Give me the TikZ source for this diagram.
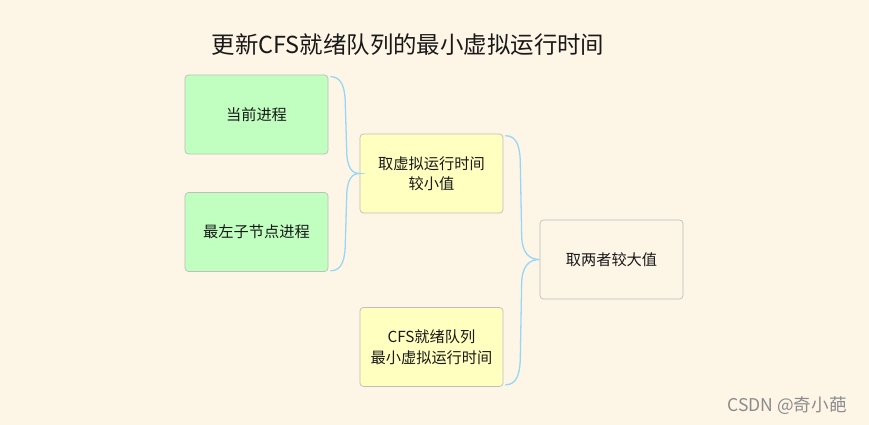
\documentclass[tikz,border=0pt]{standalone}
\usepackage{fontspec}
\usepackage{tikz}
\usepackage{xcolor}
\usetikzlibrary{positioning,calc}
\setmainfont{Noto Sans CJK SC}
\newfontfamily\cjk{Noto Sans CJK SC}

\definecolor{bgcol}{RGB}{253,245,230}
\definecolor{greenbox}{RGB}{192,255,192}
\definecolor{yellowbox}{RGB}{255,255,192}
\definecolor{edgecol}{RGB}{190,190,190}
\definecolor{bracecol}{RGB}{150,215,245}

\begin{document}
\begin{tikzpicture}[
  x=0.03cm, y=-0.03cm,
  box/.style={rectangle, rounded corners=3pt, draw=edgecol, line width=0.6pt,
              minimum width=4.29cm, minimum height=2.37cm, align=center,
              font=\cjk\fontsize{13}{17.5}\selectfont, text=black!90},
  gbox/.style={box, fill=greenbox},
  ybox/.style={box, fill=yellowbox},
  brc/.style={draw=bracecol, line width=1.1pt}
]
\fill[bgcol] (0,0) rectangle (869,425);
\useasboundingbox (0,0) rectangle (869,425);

\node[font=\cjk\fontsize{20}{24}\selectfont, text=black!90] (title) at (408,45)
  {更新CFS就绪队列的最小虚拟运行时间};

\node[gbox] (cur)  at (256.5,114.5) {当前进程};
\node[gbox] (left) at (256.5,232)   {最左子节点进程};
\node[ybox] (minv) at (431.5,173.5) {取虚拟运行时间\\较小值};
\node[ybox] (cfs)  at (431.5,347)   {CFS就绪队列\\最小虚拟运行时间};
\node[box]  (maxv) at (611.5,259.5) {取两者较大值};

% braces
\coordinate (b1t) at ($(cur.north east)+(2,2)$);
\coordinate (b1b) at ($(left.south east)+(2,-1)$);
\coordinate (b2t) at ($(minv.north east)+(2,2)$);
\coordinate (b2b) at ($(cfs.south east)+(2,-2)$);

\draw[brc] (b1t) .. controls ($(b1t)+(12,0)$) and ($(b1t)+(15,12)$) .. ($(b1t)+(15,30)$)
  -- ($(minv.west)+(-13,-25)$)
  .. controls ($(minv.west)+(-13,-6)$) and ($(minv.west)+(-8,0)$) .. (minv.west)
  .. controls ($(minv.west)+(-8,0)$) and ($(minv.west)+(-13,6)$) .. ($(minv.west)+(-13,25)$)
  -- ($(b1b)+(15,-30)$)
  .. controls ($(b1b)+(15,-12)$) and ($(b1b)+(12,0)$) .. (b1b);

\draw[brc] (b2t) .. controls ($(b2t)+(12,0)$) and ($(b2t)+(15,12)$) .. ($(b2t)+(15,30)$)
  -- ($(maxv.west)+(-18,-25)$)
  .. controls ($(maxv.west)+(-18,-6)$) and ($(maxv.west)+(-10,0)$) .. (maxv.west)
  .. controls ($(maxv.west)+(-10,0)$) and ($(maxv.west)+(-18,6)$) .. ($(maxv.west)+(-18,25)$)
  -- ($(b2b)+(15,-30)$)
  .. controls ($(b2b)+(15,-12)$) and ($(b2b)+(12,0)$) .. (b2b);

\node[font=\cjk\fontsize{15}{18}\selectfont, text=black!45] (mark) at (787,406) {CSDN @奇小葩};
\end{tikzpicture}
\end{document}
